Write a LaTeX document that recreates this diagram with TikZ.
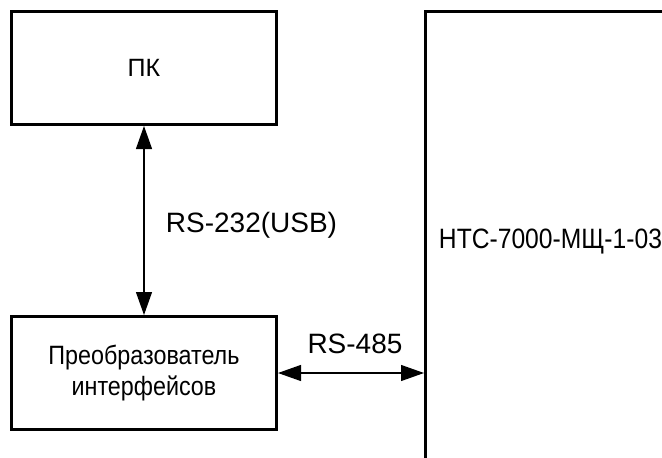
\documentclass[tikz,border=0pt]{standalone}
\usepackage{fontspec}
\setmainfont{Liberation Sans}[FakeStretch=0.88]
\newfontfamily\widefont{Liberation Sans}
\usetikzlibrary{arrows.meta, positioning}

\begin{document}
\begin{tikzpicture}[
  x=1pt, y=-1pt,
  block/.style={rectangle, draw=black, line width=3pt, fill=white,
                inner sep=0pt, minimum width=265pt, minimum height=113pt},
  link/.style={{Triangle[length=23pt,width=16pt]}-{Triangle[length=23pt,width=16pt]},
               line width=1.2pt},
  lbl/.style={font=\fontsize{28}{32}\selectfont},
  wlbl/.style={font=\widefont\fontsize{28}{32}\selectfont},
  node distance=189pt
]
\useasboundingbox (0,0) rectangle (662,458);

\node[block, anchor=north west, font=\widefont\fontsize{25}{29}\selectfont] (pc) at (10,10) {ПК};
\node[block, below=of pc, align=center, font=\fontsize{26.5}{31}\selectfont] (conv)
    {Преобразователь\\интерфейсов};
\node[block, anchor=north west, minimum width=250pt, minimum height=460pt, lbl] (ntc)
    at (424,10) {НТС-7000-МЩ-1-03};

% links
\draw[link] (pc.south) -- node[wlbl, right, xshift=18pt, yshift=-5pt]{RS-232(USB)} (conv.north);
\draw[link] (conv.east) -- node[wlbl, above, xshift=4pt, yshift=15pt]{RS-485} (conv.east -| ntc.west);
\end{tikzpicture}
\end{document}
